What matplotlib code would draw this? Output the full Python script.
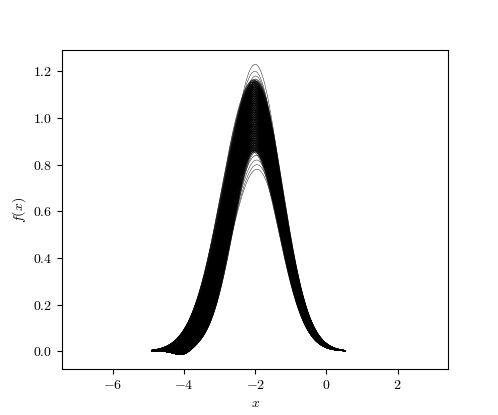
import numpy as np
import matplotlib
matplotlib.use('Agg')
import matplotlib.pyplot as plt

plt.rcParams['font.family'] = 'serif'
plt.rcParams['font.serif'] = ['cmr10', 'DejaVu Serif']
plt.rcParams['mathtext.fontset'] = 'cm'
plt.rcParams['axes.formatter.use_mathtext'] = True

# sampled x range of every curve
x_start = -4.92
x_stop = 0.52

# dense core of the ensemble: every amplitude is combined with every shape
core_amplitudes = [0.86, 0.87, 0.88, 0.89, 0.90, 0.91, 0.92, 0.93, 0.94, 0.95, 0.96,
                   0.97, 0.98, 0.99, 1.00, 1.01, 1.02, 1.03, 1.04, 1.05, 1.06,
                   1.07, 1.08, 1.09, 1.10, 1.11, 1.12, 1.13, 1.14, 1.15, 1.16]
shape_scales = [0.996, 1.003, 0.999, 1.006, 0.993, 1.001, 1.004, 0.997, 1.002, 0.995]
shape_centers = [-1.96, -1.97, -1.99, -2.00, -2.01, -2.03, -2.04, -2.05, -2.06, -2.08]
shape_left_widths = [0.66, 0.68, 0.70, 0.72, 0.74, 0.76, 0.78, 0.80, 0.83, 0.86]
shape_right_widths = [0.71, 0.74, 0.70, 0.73, 0.76, 0.71, 0.74, 0.72, 0.75, 0.73]
shape_dips = [0.020, 0.017, 0.014, 0.012, 0.010, 0.008, 0.006, 0.004, 0.002, 0.0]

# a few stray curves above and below the band
stray_amplitudes = [1.23, 1.20, 1.18, 0.84, 0.82, 0.80, 0.78]
stray_centers = [-2.00, -2.01, -1.99, -1.97, -1.96, -1.95, -1.95]
stray_left_widths = [0.74, 0.76, 0.73, 0.72, 0.73, 0.74, 0.75]
stray_right_widths = [0.71, 0.72, 0.70, 0.71, 0.72, 0.70, 0.71]

xlim = (-7.42, 3.42)


def curve(x, amp, c, sl, sr, dip=0.0):
    s = np.where(x < c, sl, sr)
    return amp * np.exp(-(x - c) ** 2 / (2 * s ** 2)) - dip * np.exp(-((x + 4.05) / 0.32) ** 2)


x = np.linspace(x_start, x_stop, 400)

fig = plt.figure(figsize=(4.98, 4.15), dpi=100)
ax = fig.add_subplot(111)

for amp in core_amplitudes:
    for k, c, sl, sr, d in zip(shape_scales, shape_centers, shape_left_widths, shape_right_widths, shape_dips):
        ax.plot(x, curve(x, amp * k, c, sl, sr, d), color='black', linewidth=0.3)

for amp, c, sl, sr in zip(stray_amplitudes, stray_centers, stray_left_widths, stray_right_widths):
    ax.plot(x, curve(x, amp, c, sl, sr), color='black', linewidth=0.3)

ax.set_xlim(*xlim)
ax.set_xlabel('$x$')
ax.set_ylabel('$f(x)$')

fig.savefig('out.png', dpi=100)
